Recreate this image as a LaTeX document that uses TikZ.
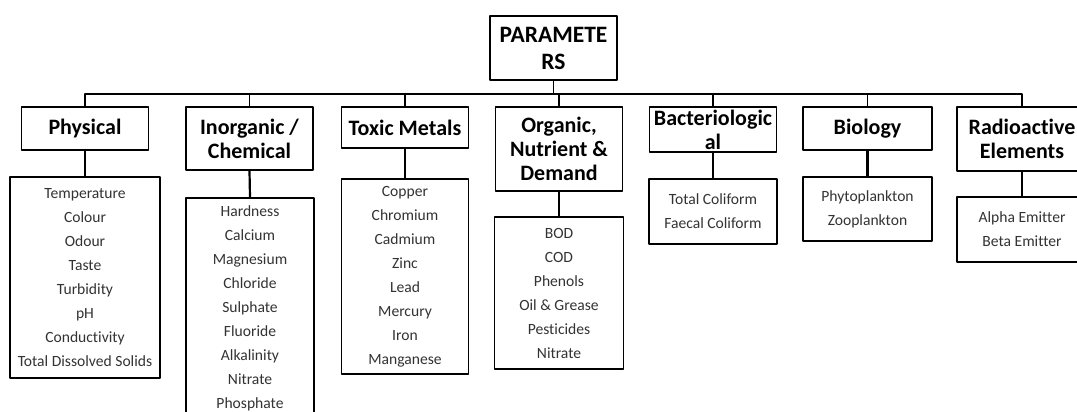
\documentclass[tikz,border=0pt]{standalone}
\usepackage{fontspec}
\setmainfont{Carlito}[Ligatures=NoCommon]

\begin{document}
\begin{tikzpicture}[line cap=round,line join=round,x=1pt,y=-1pt,
  rootbox/.style={draw,line width=1.5pt,inner sep=0pt,minimum width=127pt,minimum height=64pt,align=center,font=\fontsize{23.5}{27}\selectfont\bfseries},
  catbox/.style={draw,line width=1.5pt,inner sep=0pt,minimum width=127pt,align=center,font=\fontsize{22}{24}\selectfont\bfseries},
  itembox/.style={draw,line width=1.5pt,inner sep=0pt,minimum width=128pt,align=center,text=black!80,font=\fontsize{15.6}{24}\selectfont},
  link/.style={line width=1.6pt},
  sublink/.style={line width=2.2pt}]
\path[use as bounding box,fill=white] (0,0) rectangle (1077,412);
\node[rootbox] (root) at (553.5,48) {PARAMETE\\RS};
\node[catbox,minimum height=43pt] (phys) at (85,128.5) {Physical};
\node[catbox,minimum height=63pt] (inorg) at (249.5,138.5) {Inorganic /\\Chemical};
\node[catbox,minimum height=41pt] (toxic) at (405,127.5) {Toxic Metals};
\node[catbox,minimum height=84pt] (organic) at (559,149) {Organic,\\Nutrient \&\\Demand};
\node[catbox,minimum height=45pt] (bact) at (713,129.5) {Bacteriologic\\al};
\node[catbox,minimum height=43pt,minimum width=129pt] (bio) at (867.5,128.5) {Biology};
\node[catbox,minimum height=64pt,minimum width=130pt] (radio) at (1022,139) {Radioactive\\Elements};
\node[itembox,minimum width=150pt,minimum height=201pt] (physList) at (85,277.5) {Temperature\\Colour\\Odour\\Taste\\Turbidity\\pH\\Conductivity\\Total Dissolved Solids};
\node[itembox,minimum height=220pt] (inorgList) at (250,308) {Hardness\\Calcium\\Magnesium\\Chloride\\Sulphate\\Fluoride\\Alkalinity\\Nitrate\\Phosphate};
\node[itembox,minimum width=127pt,minimum height=195pt] (toxicList) at (405,276.5) {Copper\\Chromium\\Cadmium\\Zinc\\Lead\\Mercury\\Iron\\Manganese};
\node[itembox,minimum width=129pt,minimum height=152pt] (organicList) at (559,293) {BOD\\COD\\Phenols\\Oil \& Grease\\Pesticides\\Nitrate};
\node[itembox,minimum height=65pt] (bactList) at (713,211.5) {Total Coliform\\Faecal Coliform};
\node[itembox,minimum width=129pt,minimum height=64pt] (bioList) at (867.5,209) {Phytoplankton\\Zooplankton};
\node[itembox,minimum width=130pt,minimum height=65pt] (radioList) at (1022,229.5) {Alpha Emitter\\Beta Emitter};
\foreach \cat in {phys,inorg,toxic,organic,bact,bio,radio}
  \draw[link] (root.south) -- ++(0,13) -| (\cat.north);
\foreach \cat in {phys,inorg,toxic,organic,bact,bio,radio}
  \draw[sublink] (\cat.south) -- (\cat List.north);
\end{tikzpicture}
\end{document}
